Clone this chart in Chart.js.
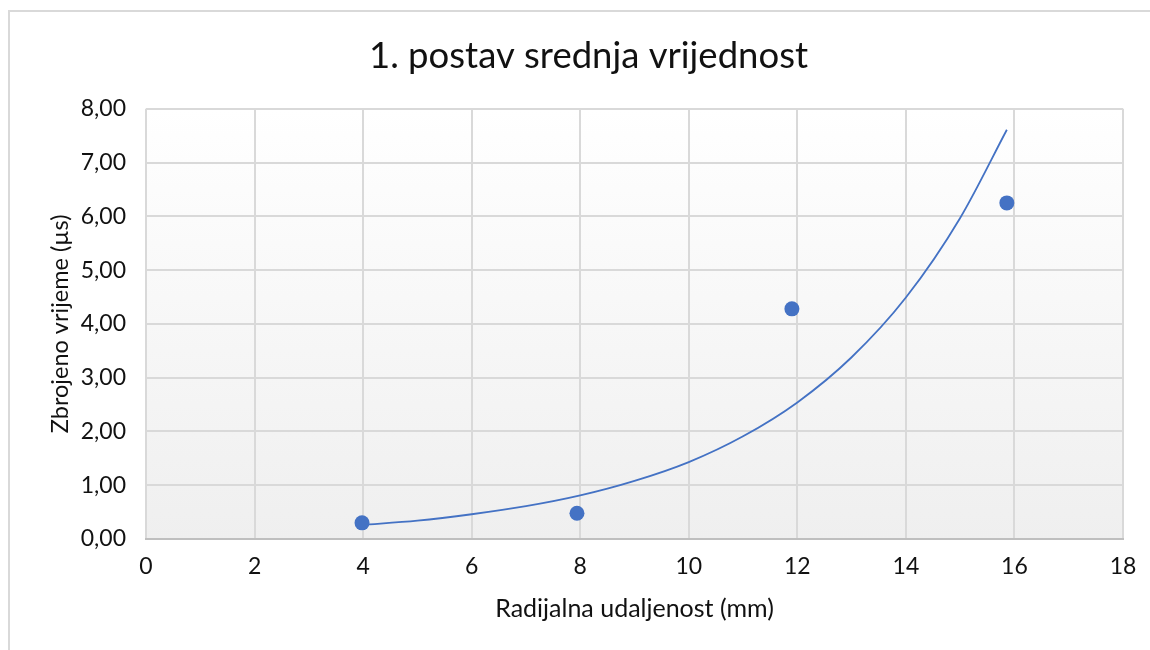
<!DOCTYPE html>
<html>
<head>
<meta charset="utf-8">
<script src="https://cdn.jsdelivr.net/npm/chart.js@4/dist/chart.umd.min.js"></script>
<style>
  html, body { margin: 0; padding: 0; background: #ffffff; overflow: hidden; width: 1150px; height: 650px; }
  #frame { position: absolute; left: 8px; top: 10px; width: 1200px; height: 700px; border: 2px solid #d9d9d9; box-sizing: border-box; }
  #c { position: absolute; left: 0; top: 0; }
</style>
</head>
<body>
<div id="frame"></div>
<canvas id="c" width="1172" height="650"></canvas>
<script>
const chartTitle = '1. postav srednja vrijednost';
const xAxisTitle = 'Radijalna udaljenost (mm)';
const yAxisTitle = 'Zbrojeno vrijeme (µs)';

// measured points
const pointX = [3.98, 7.94, 11.90, 15.86];
const pointY = [0.30, 0.48, 4.28, 6.25];

// exponential trendline
const trendX = [3.98, 5, 6, 7, 8, 9, 10, 11, 12, 13, 14, 15, 15.86];
const trendY = [0.26, 0.34, 0.46, 0.61, 0.81, 1.08, 1.43, 1.91, 2.54, 3.38, 4.49, 5.97, 7.61];

const xMin = 0, xMax = 18, xStep = 2;
const yMin = 0, yMax = 8, yStep = 1;

const blue = '#4472c4';
const FONT = 'Lato, "Open Sans", sans-serif';

const bgPlugin = {
  id: 'plotBg',
  beforeDraw(chart) {
    const {ctx, chartArea: a} = chart;
    const g = ctx.createLinearGradient(0, a.top, 0, a.bottom);
    g.addColorStop(0, '#ffffff');
    g.addColorStop(1, '#efefef');
    ctx.save();
    ctx.fillStyle = g;
    ctx.fillRect(a.left, a.top, a.right - a.left, a.bottom - a.top);
    ctx.restore();
  }
};

new Chart(document.getElementById('c'), {
  type: 'scatter',
  data: {
    datasets: [
      {
        label: 'Trend',
        data: trendX.map((x, i) => ({x, y: trendY[i]})),
        showLine: true,
        borderColor: blue,
        borderWidth: 1.8,
        pointRadius: 0,
        fill: false,
        cubicInterpolationMode: 'monotone',
        order: 2
      },
      {
        label: 'Srednja vrijednost',
        data: pointX.map((x, i) => ({x, y: pointY[i]})),
        backgroundColor: blue,
        borderColor: blue,
        pointRadius: 7.5,
        borderWidth: 0,
        order: 1
      }
    ]
  },
  options: {
    responsive: false,
    animation: false,
    layout: { padding: { left: 54, right: 49, top: 0, bottom: 0 } },
    plugins: {
      legend: { display: false },
      tooltip: { enabled: false },
      title: {
        display: true,
        text: chartTitle,
        color: '#111111',
        font: { family: FONT, size: 36.5, weight: 'normal', lineHeight: 1.2 },
        padding: { top: 34, bottom: 31 }
      }
    },
    scales: {
      x: {
        type: 'linear',
        min: xMin, max: xMax,
        ticks: { stepSize: xStep, color: '#111111', font: { family: FONT, size: 23 }, padding: 14 },
        grid: { color: '#d9d9d9', lineWidth: 2, drawTicks: false },
        border: { color: '#bfbfbf', width: 2 },
        title: { display: true, text: xAxisTitle, color: '#111111', font: { family: FONT, size: 25, lineHeight: 1.2 }, padding: { top: 0, bottom: 26 } },
        afterFit(s) { s.height = 111; }
      },
      y: {
        type: 'linear',
        min: yMin, max: yMax,
        ticks: { stepSize: yStep, color: '#111111', font: { family: FONT, size: 23 }, padding: 20,
          callback: v => v.toFixed(2).replace('.', ',') },
        grid: { color: '#d9d9d9', lineWidth: 2, drawTicks: false },
        border: { display: false },
        title: { display: true, text: yAxisTitle, color: '#111111', font: { family: FONT, size: 23.5, lineHeight: 1.2 }, padding: { top: -8, bottom: 0 } },
        afterFit(s) { s.width = 92; }
      }
    }
  },
  plugins: [bgPlugin]
});
</script>
</body>
</html>
